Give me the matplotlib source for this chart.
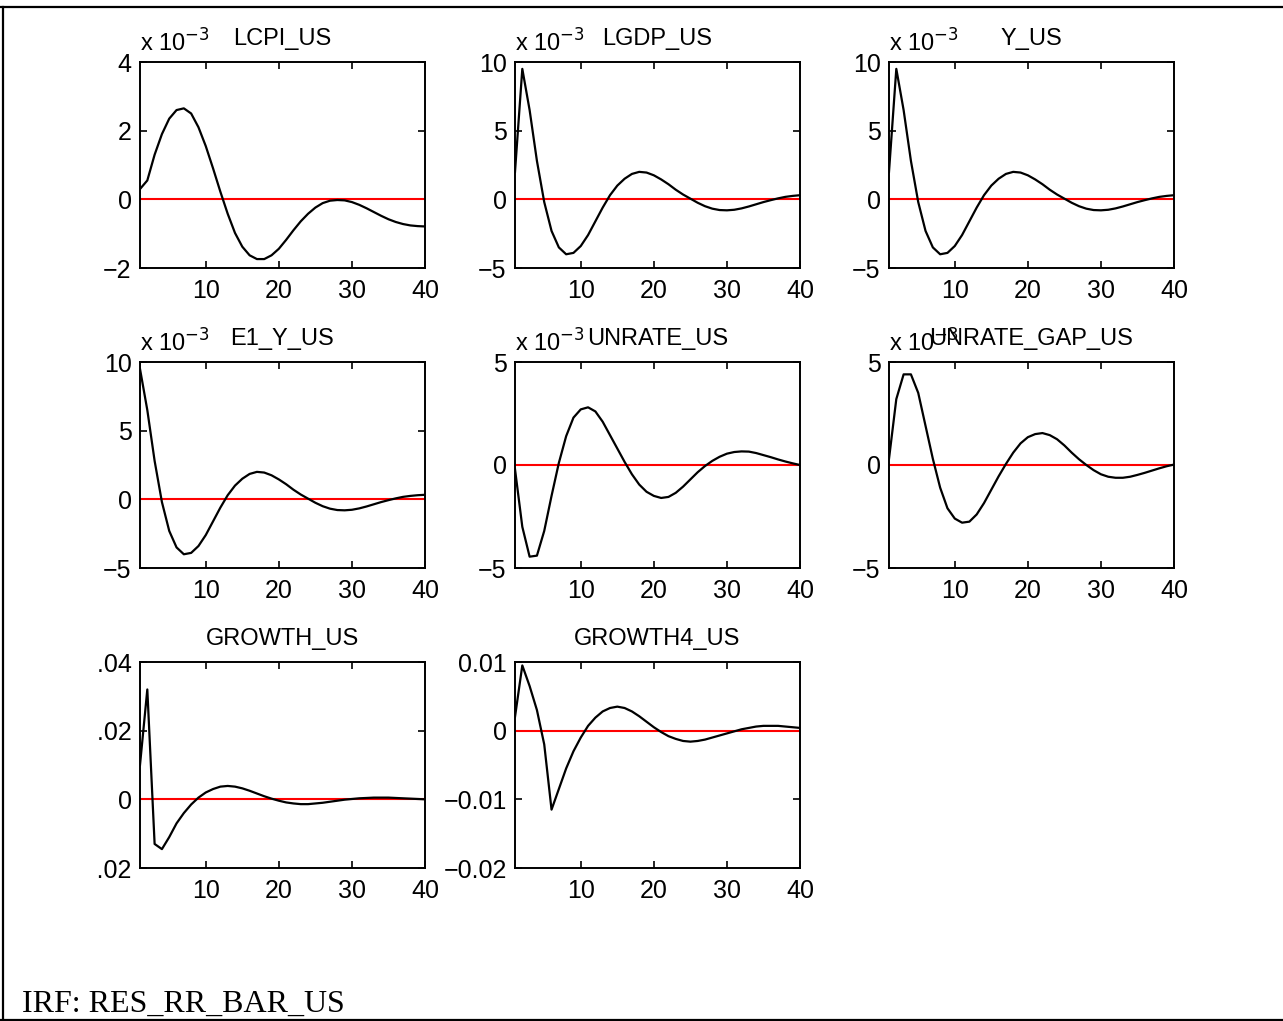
import matplotlib
matplotlib.use("Agg")
import matplotlib.pyplot as plt
from matplotlib.lines import Line2D
from matplotlib.patches import Rectangle
from matplotlib.transforms import ScaledTranslation

# ---------------- data (horizon 1..40) ----------------
periods = list(range(1, 41))

titles = ["LCPI_US", "LGDP_US", "Y_US", "E1_Y_US", "UNRATE_US",
          "UNRATE_GAP_US", "GROWTH_US", "GROWTH4_US"]

# values in units of 1e-3
lcpi_us = [0.3, 0.55, 1.3, 1.9, 2.35, 2.6, 2.65, 2.5, 2.1, 1.55,
           0.9, 0.22, -0.42, -0.98, -1.38, -1.63, -1.74, -1.74, -1.63, -1.44,
           -1.18, -0.9, -0.64, -0.42, -0.24, -0.11, -0.04, -0.02, -0.03, -0.08,
           -0.16, -0.26, -0.37, -0.48, -0.58, -0.66, -0.72, -0.76, -0.78, -0.79]
lgdp_us = [2.0, 9.5, 6.5, 2.8, -0.2, -2.3, -3.5, -4.0, -3.9, -3.4,
           -2.6, -1.6, -0.6, 0.3, 1.0, 1.5, 1.85, 2.0, 1.95, 1.75,
           1.45, 1.1, 0.7, 0.35, 0.05, -0.25, -0.5, -0.68, -0.78, -0.8,
           -0.76, -0.66, -0.52, -0.36, -0.2, -0.06, 0.07, 0.18, 0.25, 0.3]
y_us = [2.0, 9.5, 6.5, 2.8, -0.2, -2.3, -3.5, -4.0, -3.9, -3.4,
        -2.6, -1.6, -0.6, 0.3, 1.0, 1.5, 1.85, 2.0, 1.95, 1.75,
        1.45, 1.1, 0.7, 0.35, 0.05, -0.25, -0.5, -0.68, -0.78, -0.8,
        -0.76, -0.66, -0.52, -0.36, -0.2, -0.06, 0.07, 0.18, 0.25, 0.3]
e1_y_us = [9.5, 6.5, 2.8, -0.2, -2.3, -3.5, -4.0, -3.9, -3.4, -2.6,
           -1.6, -0.6, 0.3, 1.0, 1.5, 1.85, 2.0, 1.95, 1.75, 1.45,
           1.1, 0.7, 0.35, 0.05, -0.25, -0.5, -0.68, -0.78, -0.8, -0.76,
           -0.66, -0.52, -0.36, -0.2, -0.06, 0.07, 0.18, 0.25, 0.3, 0.33]
unrate_us = [-0.2, -3.0, -4.45, -4.4, -3.2, -1.5, 0.1, 1.4, 2.3, 2.7,
             2.8, 2.6, 2.1, 1.45, 0.8, 0.15, -0.45, -0.95, -1.3, -1.5,
             -1.6, -1.55, -1.35, -1.05, -0.7, -0.35, -0.05, 0.2, 0.4, 0.55,
             0.63, 0.66, 0.65, 0.58, 0.48, 0.38, 0.27, 0.17, 0.08, 0.0]
unrate_gap_us = [0.3, 3.2, 4.4, 4.4, 3.5, 1.9, 0.3, -1.1, -2.1, -2.6,
                 -2.8, -2.75, -2.4, -1.85, -1.2, -0.55, 0.05, 0.6, 1.05, 1.35,
                 1.5, 1.55, 1.45, 1.25, 0.95, 0.6, 0.28, 0.0, -0.25, -0.45,
                 -0.57, -0.62, -0.62, -0.57, -0.48, -0.38, -0.27, -0.16, -0.06, 0.02]
# plain units
growth_us = [0.010, 0.032, -0.013, -0.0145, -0.011, -0.007, -0.004, -0.0015, 0.0005, 0.002,
             0.003, 0.0037, 0.0039, 0.0037, 0.0032, 0.0025, 0.0017, 0.0009, 0.0002, -0.0004,
             -0.0009, -0.0012, -0.0014, -0.0014, -0.0012, -0.001, -0.0007, -0.0004, -0.0001, 0.0001,
             0.0003, 0.0004, 0.0005, 0.0005, 0.0005, 0.0004, 0.0003, 0.0002, 0.0001, 0.0]
growth4_us = [0.002, 0.0095, 0.0065, 0.003, -0.002, -0.0115, -0.0085, -0.0055, -0.003, -0.001,
              0.0007, 0.0019, 0.0028, 0.0033, 0.0035, 0.0033, 0.0028, 0.0021, 0.0013, 0.0005,
              -0.0002, -0.0008, -0.0012, -0.0015, -0.0016, -0.0015, -0.0013, -0.001, -0.0007, -0.0004,
              -0.0001, 0.0002, 0.0004, 0.0006, 0.0007, 0.0007, 0.0007, 0.0006, 0.0005, 0.0004]

series = [lcpi_us, lgdp_us, y_us, e1_y_us, unrate_us, unrate_gap_us, growth_us, growth4_us]
scaled = [True, True, True, True, True, True, False, False]

ylims = [(-2, 4), (-5, 10), (-5, 10), (-5, 10), (-5, 5), (-5, 5), (-0.02, 0.04), (-0.02, 0.01)]
yticks = [[-2, 0, 2, 4], [-5, 0, 5, 10], [-5, 0, 5, 10], [-5, 0, 5, 10],
          [-5, 0, 5], [-5, 0, 5], [-0.02, 0, 0.02, 0.04], [-0.02, -0.01, 0, 0.01]]
yticklabels = [["\u22122", "0", "2", "4"], ["\u22125", "0", "5", "10"], ["\u22125", "0", "5", "10"],
               ["\u22125", "0", "5", "10"], ["\u22125", "0", "5"], ["\u22125", "0", "5"],
               ["\u22120.02", "0", "0.02", "0.04"], ["\u22120.02", "\u22120.01", "0", "0.01"]]
xticks = [10, 20, 30, 40]
footer = "IRF: RES_RR_BAR_US"

# ---------------- figure ----------------
W, H = 1283, 1021
fig = plt.figure(figsize=(W / 100, H / 100), dpi=100)
plt.rcParams['font.family'] = ['Liberation Sans', 'DejaVu Sans']

col_left = [140, 515, 889]
row_top = [62, 362, 662]
aw, ah = 285, 206
fs = 18

for i, (name, vals) in enumerate(zip(titles, series)):
    r, c = divmod(i, 3)
    left = col_left[c] / W
    bottom = 1 - (row_top[r] + ah) / H
    ax = fig.add_axes([left, bottom, aw / W, ah / H])
    ax.plot(periods, vals, color='black', lw=1.6, zorder=3)
    ax.plot([periods[0], periods[-1]], [0, 0], color='red', lw=1.5, zorder=2)
    ax.set_xlim(1, 40)
    ax.set_ylim(*ylims[i])
    ax.set_xticks(xticks)
    ax.set_xticklabels([str(t) for t in xticks])
    ax.set_yticks(yticks[i])
    ax.set_yticklabels(yticklabels[i])
    ax.tick_params(direction='in', length=5, width=1.2, top=True, right=True,
                   labelsize=fs, pad=6)
    ax.tick_params(axis='x', pad=8)
    for s in ax.spines.values():
        s.set_linewidth(1.4)
    ax.set_title(name, fontsize=17, pad=12)
    if scaled[i]:
        tr = ax.transAxes + ScaledTranslation(0, 10 / 100, fig.dpi_scale_trans)
        ax.text(0, 1, r"x 10$^{-3}$", transform=tr, ha='left', va='baseline',
                fontsize=17, zorder=1)

# clipped left margin (as in the source image)
fig.add_artist(Rectangle((6 / W, 1 - 900 / H), 92 / W, 270 / H,
                         transform=fig.transFigure, facecolor='white',
                         edgecolor='none', zorder=5))

# outer frame: top, left, bottom
for xs, ys in [([0, 1], [1 - 7 / H, 1 - 7 / H]),
               ([3 / W, 3 / W], [1 - 7 / H, 1 / H]),
               ([0, 1], [1.2 / H, 1.2 / H])]:
    fig.add_artist(Line2D(xs, ys, transform=fig.transFigure, color='black', lw=1.6, zorder=6))

fig.text(22 / W, 1 - 1012 / H, footer, family=['Liberation Serif', 'DejaVu Serif'],
         fontsize=23, ha='left', va='baseline')

fig.savefig("out.png", dpi=100, facecolor='white')
